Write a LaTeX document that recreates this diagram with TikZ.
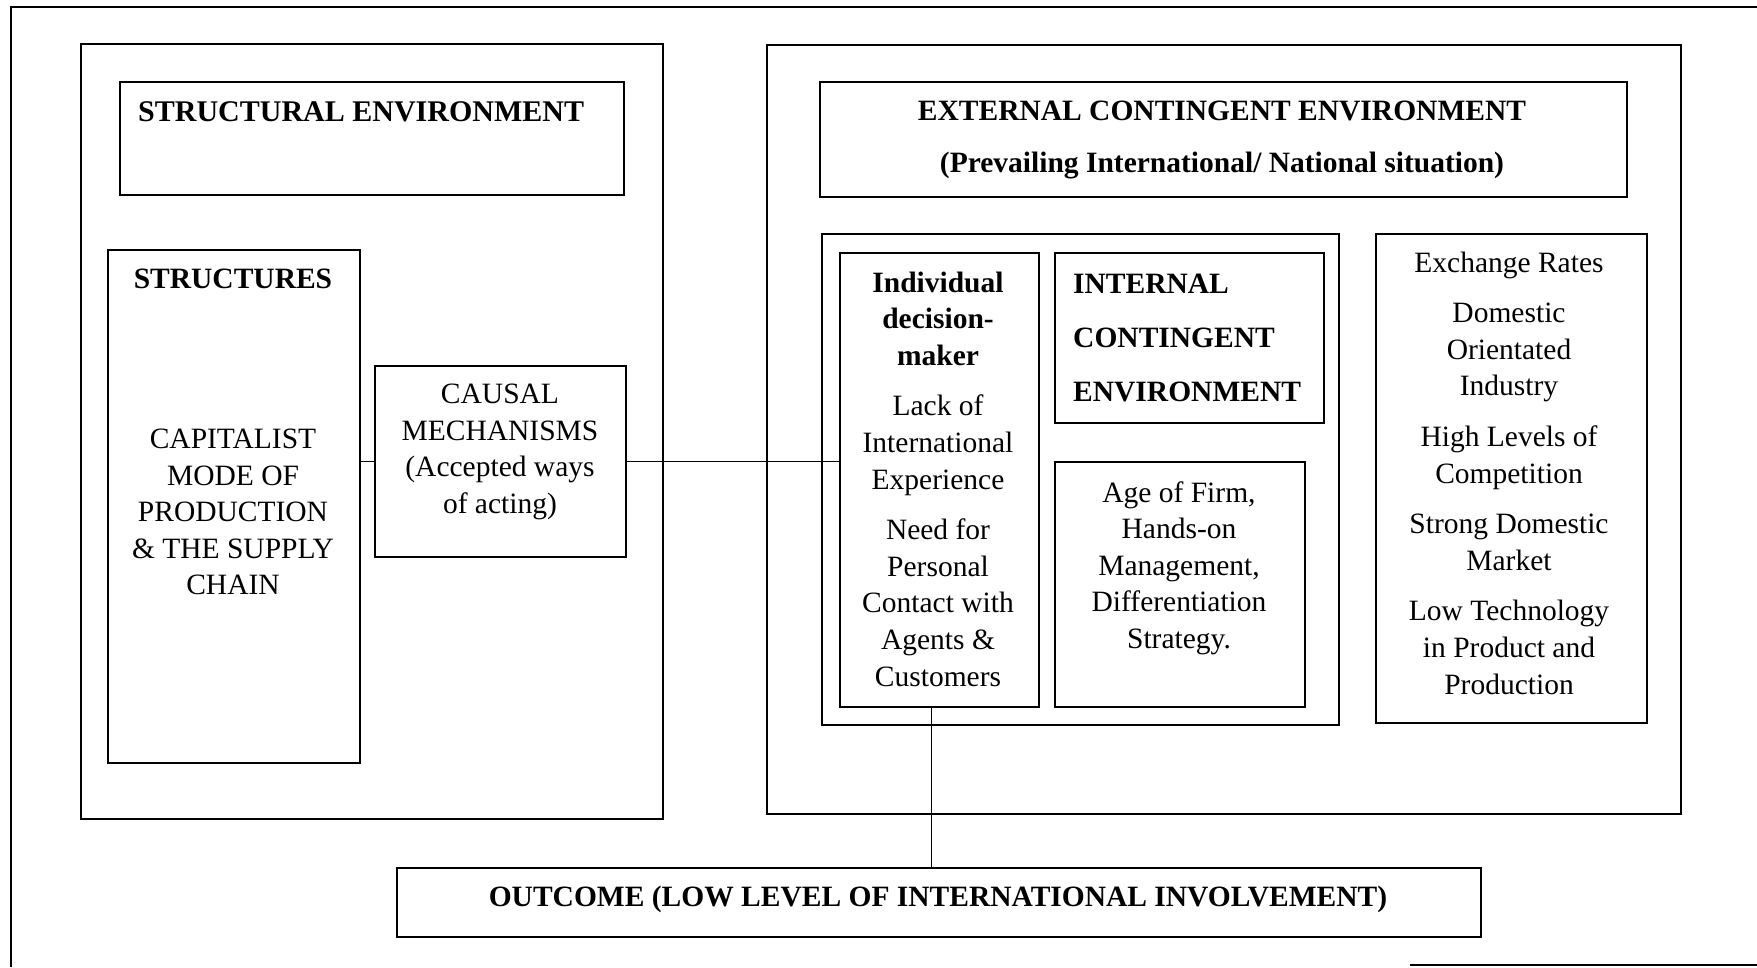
\documentclass[tikz,border=0pt]{standalone}
\usepackage{fontspec}
\setmainfont{Liberation Serif}
\tikzset{
  box/.style={draw, line width=1.8pt, inner sep=0pt, anchor=north west},
  txt/.style={align=center, inner sep=0pt, font=\fontsize{29.5}{36.6}\selectfont},
  btxt/.style={txt, font=\fontsize{29.5}{36.6}\selectfont\bfseries},
  link/.style={draw, line width=1.6pt},
}
% box with corners given as (x1,y1) and size
\newcommand{\panel}[5]{\node[box, minimum width=#4pt, minimum height=#5pt] (#1) at (#2,#3) {};}
\begin{document}
\begin{tikzpicture}[x=1pt, y=-1pt]
\useasboundingbox (0,0) rectangle (1757,967);
\begin{scope}
\clip (0,0) rectangle (1757,967);
% outer frame (partly outside the page)
\coordinate (fa) at (11,967);
\coordinate (fb) at (11,7);
\coordinate (fc) at (1757,7);
\coordinate (fd) at (1410,965);
\coordinate (fe) at (1757,965);
\draw[line width=1.8pt] (fa) -- (fb) -- (fc);
\draw[line width=1.8pt] (fd) -- (fe);
\end{scope}

% left panel
\panel{Lbig}{80}{43}{582}{775}
\panel{SE}{119}{81}{504}{113}
\panel{ST}{107}{249}{252}{513}
\panel{CM}{374}{365}{251}{191}

% right panel
\panel{Rbig}{766}{44}{914}{769}
\panel{EX}{819}{81}{807}{115}
\panel{GRP}{821}{233}{517}{491}
\panel{IND}{839}{252}{199}{454}
\panel{INT}{1054}{252}{269}{170}
\panel{AGE}{1054}{461}{250}{245}
\panel{EXR}{1375}{233}{271}{489}

% outcome
\panel{OUT}{396}{867}{1084}{69}

% texts
\node[btxt, font=\fontsize{30}{36.6}\selectfont\bfseries, anchor=west] (tSE) at (138,112) {STRUCTURAL ENVIRONMENT};
\node[btxt] (tST) at (233,279) {STRUCTURES};
\node[txt] (tCAP) at (233,512) {CAPITALIST\\MODE OF\\PRODUCTION\\\& THE SUPPLY\\CHAIN};
\node[txt] (tCM) at (500,452) {CAUSAL\\MECHANISMS\\(Accepted ways\\of acting)};
\node[btxt, font=\fontsize{29.5}{52}\selectfont\bfseries] (tEX) at (1222,140) {EXTERNAL CONTINGENT ENVIRONMENT\\(Prevailing International/ National situation)};
\node[btxt, font=\fontsize{29.5}{54}\selectfont\bfseries, align=left, anchor=west] (tINT) at (1073,338) {INTERNAL\\CONTINGENT\\ENVIRONMENT};
\node[txt] (tAGE) at (1179,568) {Age of Firm,\\Hands-on\\Management,\\Differentiation\\Strategy.};
\node[txt] (tIND) at (938,479) {\textbf{Individual}\\\textbf{decision-}\\\textbf{maker}\\[14pt]Lack of\\International\\Experience\\[14pt]Need for\\Personal\\Contact with\\Agents \&\\Customers};
\node[txt] (tEXR) at (1509,473) {Exchange Rates\\[14pt]Domestic\\Orientated\\Industry\\[14pt]High Levels of\\Competition\\[14pt]Strong Domestic\\Market\\[14pt]Low Technology\\in Product and\\Production};
\node[btxt] (tOUT) at (938,899) {OUTCOME (LOW LEVEL OF INTERNATIONAL INVOLVEMENT)};

% connectors
\draw[link] (CM.west) -- (CM.west -| ST.east);
\draw[link] (CM.east) -- (CM.east -| IND.west);
\draw[link] ([xshift=-8pt]IND.south) -- ([xshift=-8pt]IND.south |- OUT.north);
\end{tikzpicture}
\end{document}
